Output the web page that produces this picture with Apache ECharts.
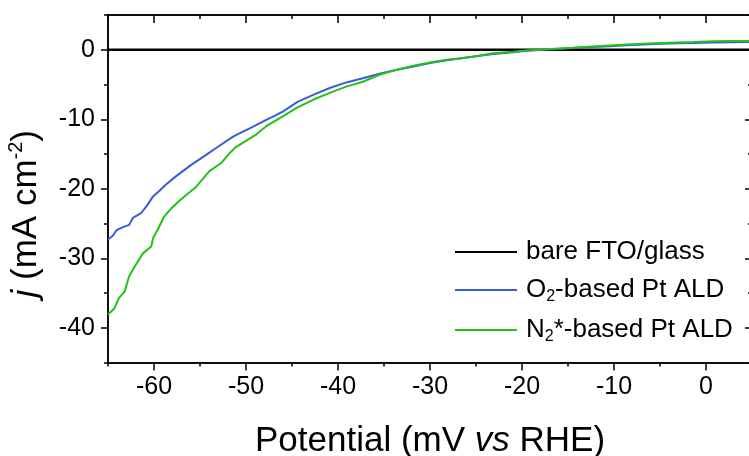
<!DOCTYPE html>
<html>
<head>
<meta charset="utf-8">
<script src="https://cdn.jsdelivr.net/npm/echarts@6/dist/echarts.min.js"></script>
<style>
html,body{margin:0;padding:0;background:#fff;}
#chart{width:749px;height:456px;}
</style>
</head>
<body>
<div id="chart"></div>
<script>
// ---- Data ----
const seriesNames = ['bare FTO/glass', 'O2-based Pt ALD', 'N2*-based Pt ALD'];

const bareX = [-65, 5];
const bareY = [0, 0];

const o2X = [-65, -64.5, -64.1, -63.5, -62.7, -62.3, -61.4, -60.8, -60.1, -59.4, -58.7, -57.8, -56.9, -56.0, -55.1, -54.1, -53.2, -52.3, -51.4, -50.5, -49.6, -48.7, -47.8, -46.9, -46.0, -44.4, -42.7, -40.9, -39.1, -37.3, -35.5, -33.7, -31.8, -30.0, -28.2, -26.4, -24.6, -23.1, -21.0, -19.5, -17.0, -14.5, -12.3, -10.5, -8.6, -6.8, -5.0, -3.2, -1.4, 0.8, 2.5, 4.4, 5];
const o2Y = [-27.3, -26.8, -26.0, -25.6, -25.2, -24.2, -23.5, -22.5, -21.1, -20.3, -19.4, -18.4, -17.5, -16.6, -15.8, -14.9, -14.1, -13.3, -12.5, -11.9, -11.3, -10.7, -10.1, -9.5, -8.9, -7.5, -6.5, -5.5, -4.7, -4.1, -3.45, -2.9, -2.4, -1.9, -1.5, -1.2, -0.86, -0.6, -0.35, -0.15, 0.05, 0.25, 0.4, 0.52, 0.65, 0.75, 0.85, 0.92, 0.98, 1.05, 1.08, 1.1, 1.1];

const n2X = [-65, -64.3, -63.8, -63.2, -62.7, -62.1, -61.2, -60.3, -60.1, -59.6, -58.9, -58.1, -57.3, -56.5, -55.4, -54.0, -52.7, -51.8, -51.1, -50.0, -48.9, -47.8, -46.0, -44.4, -42.7, -40.9, -39.1, -37.3, -35.5, -33.7, -31.8, -30.0, -28.2, -26.8, -25.0, -23.1, -21.0, -19.5, -17.0, -14.5, -12.3, -10.5, -8.6, -6.8, -5.0, -3.2, -1.4, 0.8, 2.5, 4.4, 5];
const n2Y = [-38.1, -37.2, -35.7, -34.8, -32.6, -31.2, -29.3, -28.3, -27.1, -25.9, -24.0, -22.8, -21.8, -20.9, -19.7, -17.5, -16.3, -14.9, -14.0, -13.1, -12.2, -11.0, -9.6, -8.3, -7.2, -6.2, -5.3, -4.6, -3.6, -2.9, -2.3, -1.85, -1.45, -1.25, -0.95, -0.5, -0.3, -0.1, 0.1, 0.3, 0.48, 0.62, 0.77, 0.87, 0.96, 1.03, 1.1, 1.22, 1.25, 1.25, 1.25];

const xMajorTicks = [-60, -50, -40, -30, -20, -10, 0];
const xMinorTicks = [-65, -55, -45, -35, -25, -15, -5, 5];
const yMajorTicks = [-40, -30, -20, -10, 0];
const yMinorTicks = [-45, -35, -25, -15, -5, 5];

const xRange = [-65, 5];
const yRange = [-45, 5];

// ---- Chart ----
const FONT = '"Liberation Sans", Arial, sans-serif';
const pair = (xs, ys) => xs.map((x, i) => [x, ys[i]]);
const chart = echarts.init(document.getElementById('chart'), null, {renderer: 'canvas'});

const axisLineStyle = {show: true, onZero: false, lineStyle: {color: '#000', width: 1.5}};
function xAx(pos, ticks, len, inside, labels, name) {
  return {
    type: 'value', position: pos, min: xRange[0], max: xRange[1],
    axisLine: axisLineStyle,
    axisTick: {show: true, inside: inside, length: len, customValues: ticks, lineStyle: {color: '#000', width: 1.5}},
    axisLabel: labels ? {show: true, customValues: ticks, margin: 12, color: '#000', fontSize: 25, fontFamily: FONT,
      formatter: v => String(v)} : {show: false},
    splitLine: {show: false},
    name: name || '', nameLocation: 'middle', nameGap: 61,
    nameTextStyle: {color: '#000', fontSize: 35, fontFamily: FONT,
      rich: {t: {fontSize: 35, fontFamily: FONT, color: '#000'}, i: {fontSize: 35, fontFamily: FONT, fontStyle: 'italic', color: '#000'}}}
  };
}
function yAx(pos, ticks, len, inside, labels, name) {
  return {
    type: 'value', position: pos, min: yRange[0], max: yRange[1],
    axisLine: axisLineStyle,
    axisTick: {show: true, inside: inside, length: len, customValues: ticks, lineStyle: {color: '#000', width: 1.5}},
    axisLabel: labels ? {show: true, customValues: ticks, margin: 13, color: '#000', fontSize: 25, fontFamily: FONT,
      formatter: v => String(v)} : {show: false},
    splitLine: {show: false},
    name: name || '', nameLocation: 'middle', nameGap: 62, nameRotate: 90,
    nameTextStyle: {color: '#000', fontSize: 35, fontFamily: FONT, padding: [0, 50, 0, 0],
      rich: {
        t: {fontSize: 35, fontFamily: FONT, color: '#000', lineHeight: 40},
        i: {fontSize: 35, fontFamily: FONT, fontStyle: 'italic', color: '#000', lineHeight: 40},
        sup: {fontSize: 20, fontFamily: FONT, color: '#000', verticalAlign: 'top', lineHeight: 20}
      }}
  };
}

const option = {
  backgroundColor: '#fff',
  animation: false,
  grid: {left: 108, right: -3, top: 15, bottom: 93.5, containLabel: false, outerBoundsMode: 'none'},
  xAxis: [
    xAx('bottom', xMajorTicks, 8, false, true, '{t|Potential (mV }{i|vs}{t| RHE)}'),
    xAx('bottom', xMinorTicks, 4, false, false),
    xAx('top', xMajorTicks, 8, true, false),
    xAx('top', xMinorTicks, 4, true, false)
  ],
  yAxis: [
    yAx('left', yMajorTicks, 7, false, true, '{i|j}{t| (mA cm}{sup|-2}{t|)}'),
    yAx('left', yMinorTicks, 4, false, false),
    yAx('right', yMajorTicks, 7, true, false),
    yAx('right', yMinorTicks, 4, true, false)
  ],
  legend: {
    orient: 'vertical', left: 455, top: 239, align: 'left', padding: 0,
    icon: 'rect', itemWidth: 62, itemHeight: 2, itemGap: 12,
    data: seriesNames,
    formatter: function (name) {
      if (name === seriesNames[1]) return '{t|O}{s|2}{t|-based Pt ALD}';
      if (name === seriesNames[2]) return '{t|N}{s|2}{t|*-based Pt ALD}';
      return '{t|' + name + '}';
    },
    textStyle: {color: '#000', fontSize: 26, fontFamily: FONT, padding: [0, 0, 0, 4],
      rich: {
        t: {fontSize: 26, fontFamily: FONT, color: '#000', lineHeight: 30},
        s: {fontSize: 16, fontFamily: FONT, color: '#000', verticalAlign: 'bottom'}
      }}
  },
  series: [
    {name: seriesNames[0], type: 'line', xAxisIndex: 0, yAxisIndex: 0, data: pair(bareX, bareY),
      symbol: 'none', color: '#000', lineStyle: {color: '#000', width: 2.5}},
    {name: seriesNames[1], type: 'line', xAxisIndex: 0, yAxisIndex: 0, data: pair(o2X, o2Y),
      symbol: 'none', color: '#3b5bd8', lineStyle: {color: '#3b5bd8', width: 2}},
    {name: seriesNames[2], type: 'line', xAxisIndex: 0, yAxisIndex: 0, data: pair(n2X, n2Y),
      symbol: 'none', color: '#22c21a', lineStyle: {color: '#22c21a', width: 2}}
  ]
};
chart.setOption(option);
</script>
</body>
</html>
